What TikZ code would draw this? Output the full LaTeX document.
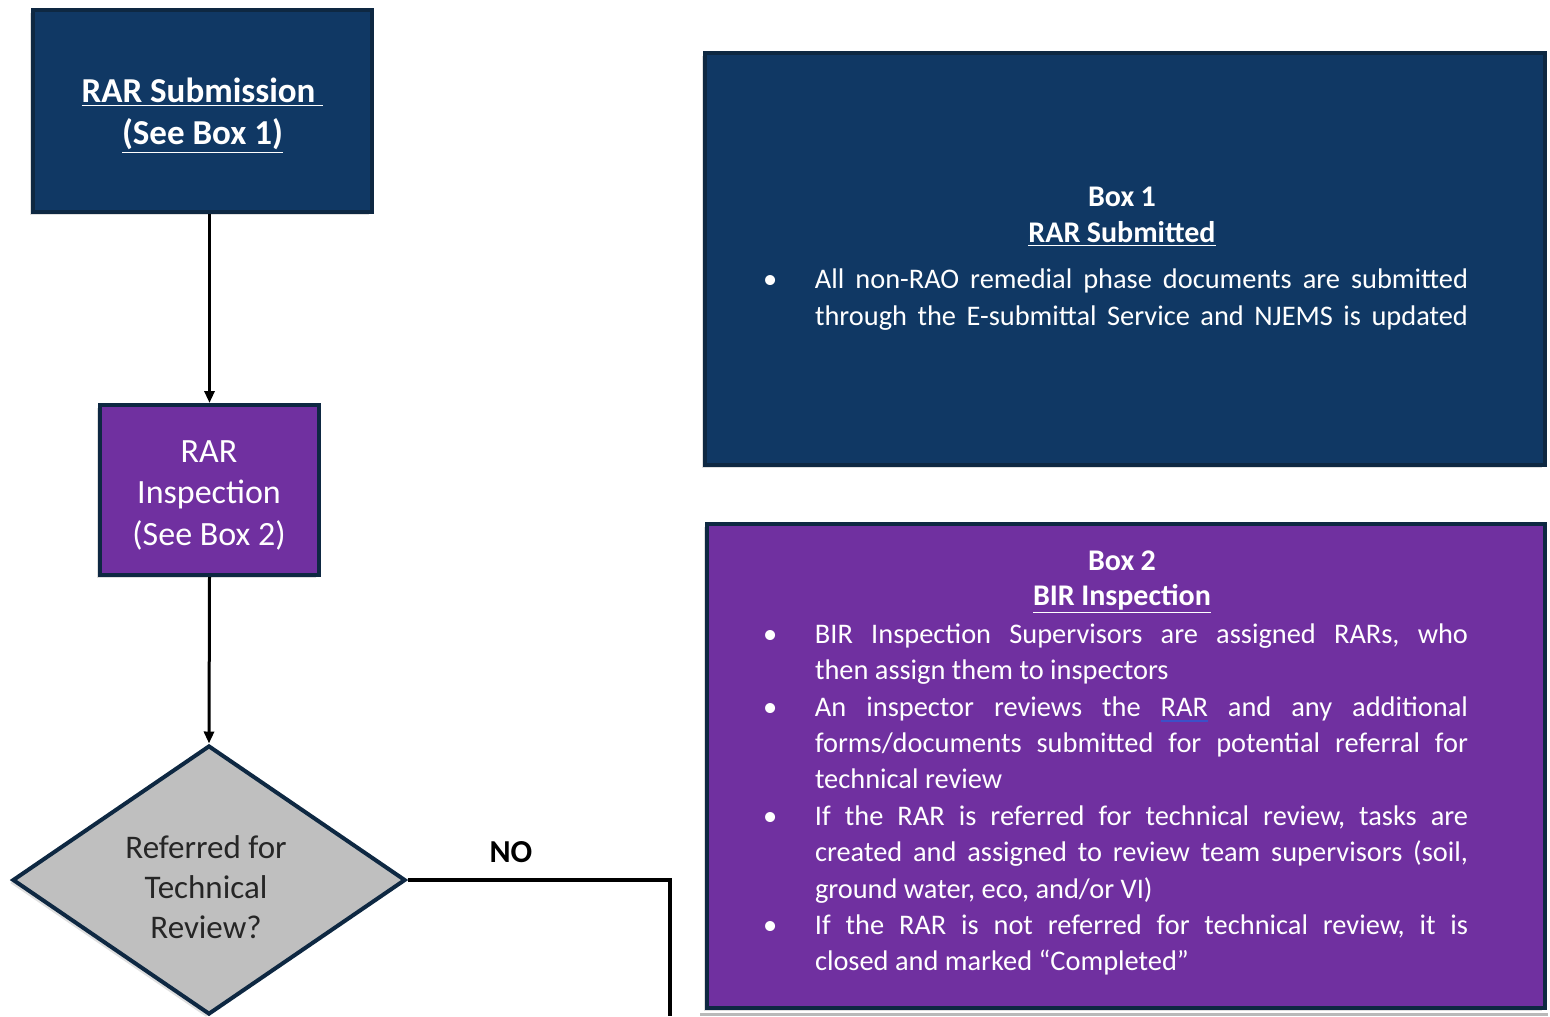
\documentclass[tikz,border=0pt]{standalone}
\usepackage{fontspec}
\setmainfont{Carlito}
\usetikzlibrary{shapes.geometric,arrows.meta,shadows}
\definecolor{navy}{RGB}{16,56,100}
\definecolor{purp}{RGB}{112,48,160}
\definecolor{edgec}{RGB}{14,40,66}
\definecolor{dgray}{RGB}{191,191,191}
\definecolor{ulblue}{RGB}{60,80,200}
\newcommand\bitem[1]{\par\noindent\hangindent=27.5pt\hangafter=1\makebox[27.5pt][l]{\hspace{1.5pt}\textbullet}#1\par}
\newcommand\spellul[1]{\sbox0{#1}\rlap{\color{ulblue}\rule[-3pt]{\wd0}{1pt}}#1}
\newcommand\boxsetup{\parskip=0pt\relax\leftskip=0pt\relax\rightskip=0pt\relax\parfillskip=0pt plus 1fil\relax
  \hyphenpenalty=10000\relax\tolerance=9999\relax\frenchspacing
  \spaceskip=\fontdimen2\font plus 2\fontdimen2\font minus 0.3\fontdimen2\font\relax}
\begin{document}
\begin{tikzpicture}[x=0.5pt,y=-0.5pt,
  shad/.style={drop shadow={shadow xshift=-1.5pt,shadow yshift=-1.5pt,opacity=0.25}},
  box/.style={draw=edgec,line width=2pt,inner sep=0pt,shad},
  flow/.style={line width=1.5pt,-{Triangle[length=6pt,width=5pt]}},
  boxtext/.style={text=white,text width=354pt,inner sep=0pt,font=\fontsize{14.2}{18.2}\selectfont}]
\useasboundingbox (0,0) rectangle (1550,1016);

\node[box,fill=navy,minimum width=169.5pt,minimum height=101pt] (sub) at (202.5,111) {};
\node[text=white,align=center,inner sep=0pt,font=\bfseries\fontsize{17.5}{21}\selectfont] (subt) at (202.5,116)
  {\underline{RAR Submission\ }\\\underline{(See Box 1)}};

\node[box,fill=purp,minimum width=109.5pt,minimum height=85pt] (insp) at (209.5,490) {};
\node[text=white,align=center,inner sep=0pt,font=\fontsize{17}{20.75}\selectfont] (inspt) at (209,495)
  {RAR\\Inspection\\(See Box 2)};

\node[diamond,aspect=1.46,draw=edgec,line width=2pt,fill=dgray,minimum width=196.5pt,minimum height=134.5pt,
  inner sep=0pt,shad] (dia) at (209,880) {};
\node[text=black!85,align=center,inner sep=0pt,font=\fontsize{16.5}{20}\selectfont] (diat) at (206,887)
  {Referred for\\Technical\\Review?};

\draw[flow] (insp.north |- sub.south) -- (insp.north);
\draw[flow] (insp.south) -- (dia.north);
\coordinate (noend) at (670,1016);
\draw[line width=2pt] (dia.east) -| (noend);
\node[font=\bfseries\fontsize{16}{19}\selectfont] (no) at (511,852) {NO};

\node[box,fill=navy,minimum width=420pt,minimum height=206pt] (b1) at (1125,259) {};
\node[boxtext,font=\fontsize{14.2}{18.4}\selectfont] (b1t) at (1114,259) {\boxsetup
  {\centering\bfseries\fontsize{15}{18}\selectfont\hspace*{8pt}Box 1\par\hspace*{8pt}\underline{RAR Submitted}\par}\vspace{4.7pt}%
  \parfillskip=0pt\relax
  \bitem{All non-RAO remedial phase documents are submitted\linebreak through the E-submittal Service and NJEMS is updated}};

\draw[gray!55,line width=1.5pt] (700,1014.5) -- (1548,1014.5);
\node[box,fill=purp,minimum width=419pt,minimum height=242pt] (b2) at (1126,766) {};
\node[boxtext] (b2t) at (1114,763) {\boxsetup
  {\centering\bfseries\fontsize{15}{17.5}\selectfont\hspace*{8pt}Box 2\par\hspace*{8pt}\underline{BIR Inspection}\par}\vspace{0.75pt}%
  \bitem{BIR Inspection Supervisors are assigned RARs, who\linebreak then assign them to inspectors}%
  \bitem{An inspector reviews the \spellul{RAR} and any additional\linebreak forms/documents submitted for potential referral for\linebreak technical review}%
  \bitem{If the RAR is referred for technical review, tasks are\linebreak created and assigned to review team supervisors (soil,\linebreak ground water, eco, and/or VI)}%
  \bitem{If the RAR is not referred for technical review, it is\linebreak closed and marked “Completed”}};
\end{tikzpicture}
\end{document}
